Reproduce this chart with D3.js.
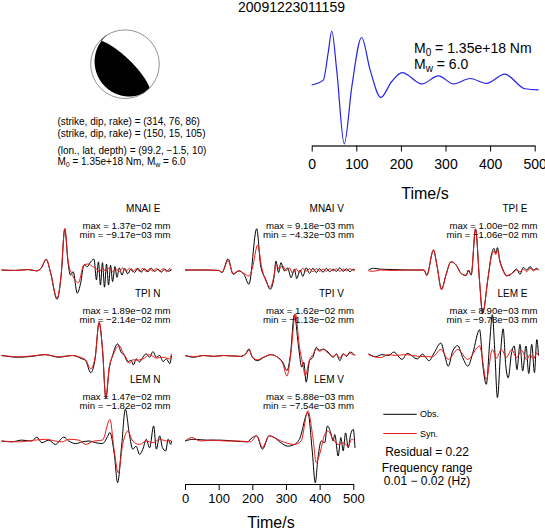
<!DOCTYPE html>
<html>
<head>
<meta charset="utf-8">
<script src="https://cdn.jsdelivr.net/npm/d3@7"></script>
<style>
  body { margin: 0; background: #fff; }
  svg { font-family: 'Liberation Sans', Arial, sans-serif; }
  text { white-space: pre; }
</style>
</head>
<body>
<svg id="chart" width="545" height="530"></svg>
<script>

// ---- data ----
var title = '20091223011159';
var mech = { strike: 314, dip: 76, rake: 86 };

var stations = [ 'MNAI E', 'MNAI V', 'TPI E', 'TPI N', 'TPI V', 'LEM E', 'LEM N', 'LEM V' ];
var maxText = [ '1.37e\u221202', '9.18e\u221203', '1.00e\u221202', '1.89e\u221202', '1.62e\u221202', '8.90e\u221203', '1.47e\u221202', '5.88e\u221203' ];
var minText = [ '\u22129.17e\u221203', '\u22124.32e\u221203', '\u22121.06e\u221202', '\u22122.14e\u221202', '\u22121.13e\u221202', '\u22129.78e\u221203', '\u22121.82e\u221202', '\u22127.54e\u221203' ];

var timeTicks = [ 0, 100, 200, 300, 400, 500 ];

// source time function, [time s, relative amplitude]
var stf = [ [0,0],[26,0.09],[37,0.6],[45,1.0],[56,0.28],[73,-1.09],[90,-0.03],[112,0.88],[131,0.28],
  [155,-0.23],[179,0.06],[203,0.23],[247,0.02],[284,0.17],[318,0.02],[355,0.12],[392,0.03],[433,0.2],
  [478,-0.07],[509,-0.09] ];

// waveforms, [time s, amplitude in % of panel peak]
var mnaiE_obs = [ [0,0],[40,-1],[80,1],[105,-2],[118,5],[133,25],[145,-4],[165,-68],[177,-15],[188,95],[198,15],
  [205,-12],[213,-4],[225,-54],[235,-31],[245,12],[255,8],[265,19],[275,25],[282,-23],[288,19],[294,-35],[300,17],
  [306,-40],[312,14],[318,-35],[324,11],[330,-27],[337,8],[343,-17],[350,5],[358,-12],[366,4],[375,-9],[385,3],
  [395,-6],[405,4],[415,-5],[425,3],[435,-4],[445,4],[455,-3],[465,2],[475,-5],[485,2],[495,-3],[505,0] ];
var mnaiE_syn = [ [0,0],[40,-1],[80,1],[105,-2],[118,4],[133,24],[145,-3],[165,-65],[177,-12],[188,97],[198,20],
  [208,-8],[218,-22],[228,-30],[245,12],[258,14],[270,8],[282,3],[290,-4],[300,4],[310,-3],[320,5],[330,-4],[340,3],
  [350,-4],[360,5],[370,-3],[380,4],[390,-4],[400,3],[410,-3],[420,4],[430,-4],[440,3],[450,-3],[460,4],[470,-3],
  [480,3],[490,-4],[500,3],[505,0] ];

var mnaiV_obs = [ [0,0],[50,0],[100,-1],[110,-6],[128,26],[143,-10],[160,-2],[175,-10],[190,-33],[213,96],[225,9],
  [240,-22],[253,-45],[265,-14],[270,21],[278,-6],[285,17],[295,-2],[305,5],[315,-18],[325,2],[332,-20],[342,0],
  [350,-15],[360,5],[370,-8],[380,4],[390,-6],[400,3],[410,-5],[420,4],[430,-4],[440,2],[450,-3],[460,5],[470,-3],
  [480,3],[490,-4],[500,2],[505,0] ];
var mnaiV_syn = [ [0,0],[50,0],[100,-1],[110,-5],[128,22],[143,-8],[160,-2],[175,-8],[190,-14],[200,4],[216,58],
  [228,5],[240,-25],[253,-40],[265,-10],[270,15],[280,2],[290,10],[300,-2],[310,5],[320,-8],[330,3],[340,-6],[350,4],
  [360,-3],[370,3],[380,-4],[390,3],[400,-3],[410,2],[420,-3],[430,3],[440,-2],[450,3],[460,-3],[470,2],[480,-2],
  [490,3],[500,-1],[505,0] ];

var tpiE_obs = [ [0,0],[15,4],[35,2],[75,1],[125,0],[165,0],[173,-12],[193,46],[203,12],[217,-44],[230,-12],[245,19],
  [260,12],[275,-8],[290,-13],[297,0],[305,-12],[318,95],[330,-27],[339,-100],[355,-19],[365,35],[373,50],[378,39],
  [383,52],[390,23],[400,0],[410,-13],[420,-12],[430,-4],[440,2],[450,-10],[460,6],[470,0],[480,8],[490,0],[500,4],[505,0] ];
var tpiE_syn = [ [0,-2],[15,-3],[35,0],[75,-1],[125,0],[165,0],[173,-13],[193,47],[203,12],[217,-46],[230,-12],[245,19],
  [260,12],[275,-8],[290,-12],[297,-3],[305,-10],[318,96],[330,-27],[339,-102],[355,-19],[365,30],[373,44],[378,36],
  [383,46],[390,20],[400,-2],[410,-14],[420,-10],[430,-6],[440,0],[450,-4],[460,2],[470,-4],[480,4],[490,-2],[500,2],[505,0] ];

var tpiN_obs = [ [0,0],[50,-4],[90,-2],[130,2],[170,-4],[210,0],[240,-8],[250,-12],[265,-40],[278,-8],[290,76],[300,15],
  [310,-100],[320,-31],[330,0],[345,27],[355,8],[365,0],[375,-15],[385,-11],[392,-22],[400,-8],[410,-15],[420,-4],
  [430,4],[440,-4],[450,9],[460,-4],[470,0],[480,-14],[490,-8],[500,-19],[505,0] ];
var tpiN_syn = [ [0,0],[50,-3],[90,-1],[130,2],[170,-3],[210,0],[240,-6],[250,-10],[265,-31],[278,-5],[290,78],[300,15],
  [310,-98],[320,-28],[332,2],[350,23],[360,8],[370,-5],[380,-18],[390,-10],[400,-11],[420,-8],[440,2],[460,-6],
  [480,-4],[500,-8],[505,4] ];

var tpiV_obs = [ [0,0],[25,-4],[55,0],[85,-2],[115,0],[165,-2],[180,4],[190,15],[200,-4],[215,-12],[235,-4],[255,2],
  [275,-4],[290,-15],[303,-35],[313,0],[325,95],[337,23],[347,-27],[353,-16],[360,-62],[370,-12],[380,-4],[390,19],
  [400,12],[410,15],[425,8],[440,-4],[450,4],[460,-12],[470,4],[480,-2],[490,8],[500,4],[505,0] ];
var tpiV_syn = [ [0,0],[25,-3],[55,0],[85,-2],[115,0],[165,-2],[180,3],[190,13],[200,-3],[215,-10],[235,-3],[255,2],
  [275,-4],[290,-18],[303,-48],[314,2],[328,97],[340,20],[350,-20],[357,-47],[370,-10],[380,2],[390,15],[400,10],
  [410,14],[425,6],[440,-2],[450,2],[460,-6],[470,4],[480,0],[490,6],[500,2],[505,2] ];

var lemE_obs = [ [0,4],[20,-3],[40,2],[60,0],[75,8],[100,-9],[115,5],[145,-8],[160,3],[180,-12],[195,6],[215,29],
  [227,-2],[237,-25],[250,10],[265,23],[280,-5],[295,-25],[310,6],[330,60],[340,-25],[350,-67],[360,30],[368,95],
  [375,14],[383,-98],[393,14],[400,62],[408,-25],[415,-52],[425,6],[433,22],[441,-33],[450,26],[458,-36],[468,22],
  [476,-42],[485,26],[493,-40],[500,37],[505,0] ];
var lemE_syn = [ [0,2],[35,-5],[60,2],[80,0],[110,2],[150,-2],[190,-3],[215,14],[237,-9],[265,14],[295,-9],[330,22],
  [350,-56],[368,14],[380,-6],[395,14],[410,-4],[425,14],[440,-5],[455,12],[470,-10],[480,2],[490,-8],[500,6],[505,0] ];

var lemN_obs = [ [0,0],[30,-2],[60,2],[90,0],[105,9],[120,-4],[140,2],[160,-8],[185,9],[200,0],[220,-6],[240,-2],
  [260,0],[280,-4],[300,-6],[315,10],[322,20],[335,-30],[345,-97],[357,-10],[368,74],[380,15],[390,-19],[400,-12],
  [410,-31],[420,-19],[430,4],[440,-16],[452,35],[460,-19],[470,12],[478,-15],[488,-23],[495,4],[503,-8],[505,0] ];
var lemN_syn = [ [0,0],[50,-2],[100,2],[130,4],[160,0],[180,-2],[200,4],[230,2],[250,-8],[275,0],[300,2],[322,50],
  [335,-23],[347,-74],[360,-8],[375,23],[390,0],[410,-8],[430,0],[450,-4],[470,4],[490,0],[505,2] ];

var lemV_obs = [ [0,0],[25,4],[65,2],[105,2],[145,0],[185,-2],[200,8],[213,12],[230,-19],[250,12],[265,8],[285,-4],
  [305,-12],[325,-8],[340,4],[365,66],[378,-23],[387,-97],[395,-39],[405,0],[415,-4],[423,35],[433,19],[440,0],
  [445,15],[455,-35],[463,8],[470,-23],[477,19],[485,-16],[492,15],[500,27],[505,-16] ];
var lemV_syn = [ [0,0],[20,8],[45,0],[80,2],[120,0],[160,0],[195,-2],[213,12],[230,-15],[250,12],[285,0],[325,-8],
  [345,0],[365,70],[380,8],[390,-50],[400,-31],[415,15],[425,23],[440,4],[455,-8],[470,-4],[485,-12],[495,4],[505,0] ];

var observed = [ mnaiE_obs, mnaiV_obs, tpiE_obs, tpiN_obs, tpiV_obs, lemE_obs, lemN_obs, lemV_obs ];
var synthetic = [ mnaiE_syn, mnaiV_syn, tpiE_syn, tpiN_syn, tpiV_syn, lemE_syn, lemN_syn, lemV_syn ];

// ---- drawing ----
var svg = d3.select( '#chart' );
var RED = '#f01818', BLUE = '#2424e6';

svg.append( 'text' )
  .attr( 'x', 291.5 ).attr( 'y', 7.5 )
  .attr( 'dy', '0.35em' )
  .attr( 'text-anchor', 'middle' )
  .style( 'font-size', '14px' )
  .text( title );

/* Beach ball */

var ball = { cx: 125, cy: 64.2, r: 34.3 },
  n = 160, ext = 1.08;

var rad = Math.PI / 180,
  phs = mech.strike * rad, dip = mech.dip * rad, rake = mech.rake * rad;
var nv = [ -Math.sin( dip ) * Math.sin( phs ), Math.sin( dip ) * Math.cos( phs ), -Math.cos( dip ) ];
var sv = [ Math.cos( rake ) * Math.cos( phs ) + Math.cos( dip ) * Math.sin( rake ) * Math.sin( phs ),
  Math.cos( rake ) * Math.sin( phs ) - Math.cos( dip ) * Math.sin( rake ) * Math.cos( phs ),
  -Math.sin( rake ) * Math.sin( dip ) ];

var grid = new Array( n * n );
for ( var j = 0; j < n; j++ ) {
  for ( var i = 0; i < n; i++ ) {
    var u = ( ( i + 0.5 ) / n * 2 - 1 ) * ext,     // east
      v = -( ( j + 0.5 ) / n * 2 - 1 ) * ext,      // north
      r = Math.min( 1, Math.sqrt( u * u + v * v ) ),
      th = 2 * Math.asin( r / Math.SQRT2 ),        // equal area, lower hemisphere
      ph = Math.atan2( u, v );
    var xv = [ Math.sin( th ) * Math.cos( ph ), Math.sin( th ) * Math.sin( ph ), Math.cos( th ) ];
    var a = nv[0] * xv[0] + nv[1] * xv[1] + nv[2] * xv[2],
      b = sv[0] * xv[0] + sv[1] * xv[1] + sv[2] * xv[2];
    grid[ j * n + i ] = a * b;
  }
}

var comp = d3.contours().size( [ n, n ] ).thresholds( [ 0 ] )( grid );
var k = 2 * ext * ball.r / n;
var ballPath = d3.geoPath( d3.geoIdentity()
  .scale( k )
  .translate( [ ball.cx - ext * ball.r, ball.cy - ext * ball.r ] ) );

svg.append( 'clipPath' ).attr( 'id', 'ballClip' )
  .append( 'circle' )
  .attr( 'cx', ball.cx ).attr( 'cy', ball.cy ).attr( 'r', ball.r );

svg.append( 'path' )
  .attr( 'clip-path', 'url(#ballClip)' )
  .attr( 'd', ballPath( comp[0] ) )
  .attr( 'fill', '#000' );

svg.append( 'circle' )
  .attr( 'cx', ball.cx ).attr( 'cy', ball.cy ).attr( 'r', ball.r )
  .attr( 'fill', 'none' )
  .attr( 'stroke', '#777' )
  .attr( 'stroke-width', 0.8 );

var info = svg.append( 'g' ).style( 'font-size', '10px' );

function addLine( y, parts ) {
  var t = info.append( 'text' ).attr( 'x', 57.4 ).attr( 'y', y ).attr( 'dy', '0.35em' );
  parts.forEach( p => {
    var s = t.append( 'tspan' ).text( p[0] );
    if ( p[1] ) s.style( 'font-size', '7px' ).attr( 'dy', '2' );
    if ( p[2] ) s.attr( 'dy', '-2' );
  } );
}

addLine( 121.7, [ [ '(strike, dip, rake) = (314, 76, 86)' ] ] );
addLine( 133, [ [ '(strike, dip, rake) = (150, 15, 105)' ] ] );
addLine( 150.2, [ [ '(lon., lat, depth) = (99.2, \u22121.5, 10)' ] ] );
addLine( 161.6, [ [ 'M' ], [ '0', true ], [ ' = 1.35e+18 Nm, M', false, true ], [ 'w', true ], [ ' = 6.0', false, true ] ] );

/* Source time function */

var xs = d3.scaleLinear().domain( [ 0, 500 ] ).range( [ 311.7, 534.7 ] );
var ys = d3.scaleLinear().domain( [ 0, 1 ] ).range( [ 85, 31 ] );

svg.append( 'path' )
  .datum( stf )
  .attr( 'fill', 'none' )
  .attr( 'stroke', BLUE )
  .attr( 'stroke-width', 1.2 )
  .attr( 'd', d3.line().curve( d3.curveMonotoneX ).x( d => xs( d[0] ) ).y( d => ys( d[1] ) ) );

var stfAxis = svg.append( 'g' )
  .attr( 'transform', 'translate(0,145.5)' )
  .call( d3.axisBottom( xs ).tickValues( timeTicks ).tickSize( 6 ).tickPadding( 8 ).tickSizeOuter( 0 ) );
stfAxis.selectAll( 'text' ).style( 'font-size', '14px' ).attr( 'font-family', null );
stfAxis.select( '.domain' ).attr( 'stroke', '#333' ).attr( 'stroke-width', 1.4 );

svg.append( 'text' )
  .attr( 'x', 425 ).attr( 'y', 193 ).attr( 'dy', '0.35em' )
  .attr( 'text-anchor', 'middle' )
  .style( 'font-size', '16px' )
  .text( 'Time/s' );

var m0 = svg.append( 'g' ).style( 'font-size', '14px' );
var t1 = m0.append( 'text' ).attr( 'x', 414 ).attr( 'y', 48.3 ).attr( 'dy', '0.35em' );
t1.append( 'tspan' ).text( 'M' );
t1.append( 'tspan' ).text( '0' ).style( 'font-size', '10px' ).attr( 'dy', 3 );
t1.append( 'tspan' ).text( ' = 1.35e+18 Nm' ).attr( 'dy', -3 );
var t2 = m0.append( 'text' ).attr( 'x', 414 ).attr( 'y', 64.3 ).attr( 'dy', '0.35em' );
t2.append( 'tspan' ).text( 'M' );
t2.append( 'tspan' ).text( 'w' ).style( 'font-size', '10px' ).attr( 'dy', 3 );
t2.append( 'tspan' ).text( ' = 6.0' ).attr( 'dy', -3 );

/* Waveform panels */

var colX = [ 1.5, 185, 368.5 ],
  rowY = [ 270, 355.5, 441 ],
  pxPerSec = 0.3366,
  halfAmp = 43;

stations.forEach( ( name, idx ) => {
  var cx = colX[ idx % 3 ], base = rowY[ Math.floor( idx / 3 ) ];
  var x = d3.scaleLinear().domain( [ 0, 500 ] ).range( [ cx, cx + 500 * pxPerSec ] );
  var y = d3.scaleLinear().domain( [ -100, 100 ] ).range( [ base + halfAmp, base - halfAmp ] );
  var line = d3.line().curve( d3.curveMonotoneX ).x( d => x( d[0] ) ).y( d => y( d[1] ) );

  var g = svg.append( 'g' ).attr( 'class', 'panel' );

  g.append( 'path' ).datum( observed[ idx ] )
    .attr( 'fill', 'none' ).attr( 'stroke', '#000' ).attr( 'stroke-width', 1 )
    .attr( 'd', line );
  g.append( 'path' ).datum( synthetic[ idx ] )
    .attr( 'fill', 'none' ).attr( 'stroke', RED ).attr( 'stroke-width', 1 )
    .attr( 'd', line );

  g.append( 'text' )
    .attr( 'x', cx + 159 ).attr( 'y', base - 62 ).attr( 'dy', '0.35em' )
    .attr( 'text-anchor', 'end' )
    .style( 'font-size', '10px' )
    .text( name );
  g.append( 'text' )
    .attr( 'x', cx + 169 ).attr( 'y', base - 44.8 ).attr( 'dy', '0.35em' )
    .attr( 'text-anchor', 'end' )
    .style( 'font-size', '9.6px' )
    .text( 'max = ' + maxText[ idx ] + ' mm' );
  g.append( 'text' )
    .attr( 'x', cx + 169 ).attr( 'y', base - 35.4 ).attr( 'dy', '0.35em' )
    .attr( 'text-anchor', 'end' )
    .style( 'font-size', '9.6px' )
    .text( 'min = ' + minText[ idx ] + ' mm' );
} );

/* Bottom time axis */

var xb = d3.scaleLinear().domain( [ 0, 500 ] ).range( [ colX[1], colX[1] + 500 * pxPerSec ] );
var bAxis = svg.append( 'g' )
  .attr( 'transform', 'translate(0,484)' )
  .call( d3.axisBottom( xb ).tickValues( timeTicks ).tickSize( 6 ).tickPadding( 4 ).tickSizeOuter( 0 ) );
bAxis.selectAll( 'text' ).style( 'font-size', '13px' ).attr( 'font-family', null );

svg.append( 'text' )
  .attr( 'x', 271 ).attr( 'y', 522 ).attr( 'dy', '0.35em' )
  .attr( 'text-anchor', 'middle' )
  .style( 'font-size', '16px' )
  .text( 'Time/s' );

/* Legend */

var legend = svg.append( 'g' ).attr( 'class', 'legend' );
var legendKeys = [ [ 'Obs.', '#000' ], [ 'Syn.', RED ] ];

legendKeys.forEach( ( d, i ) => {
  var yy = 414.3 + i * 19.2;
  legend.append( 'line' )
    .attr( 'x1', 383.3 ).attr( 'x2', 416.7 )
    .attr( 'y1', yy ).attr( 'y2', yy )
    .attr( 'stroke', d[1] ).attr( 'stroke-width', 1 );
  legend.append( 'text' )
    .attr( 'x', 420 ).attr( 'y', yy ).attr( 'dy', '0.35em' )
    .style( 'font-size', '9px' )
    .text( d[0] );
} );

[ [ 'Residual = 0.22', 451.7 ], [ 'Frequency range', 467.7 ], [ '0.01 \u2212 0.02 (Hz)', 480.7 ] ].forEach( d => {
  legend.append( 'text' )
    .attr( 'x', 427 ).attr( 'y', d[1] ).attr( 'dy', '0.35em' )
    .attr( 'text-anchor', 'middle' )
    .style( 'font-size', '12px' )
    .text( d[0] );
} );

</script>
</body>
</html>
